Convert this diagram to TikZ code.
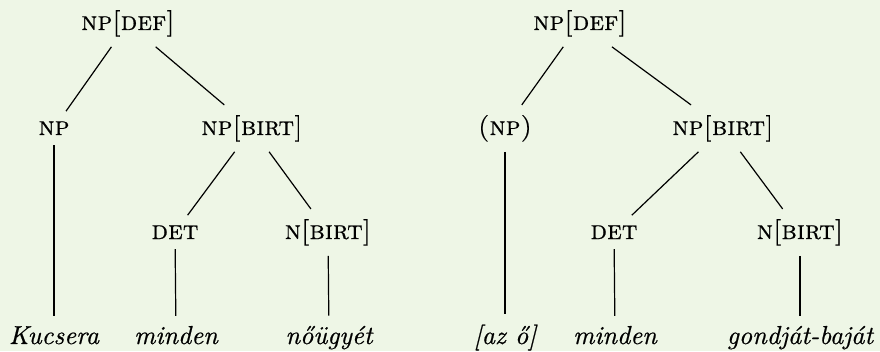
\documentclass[tikz,border=0pt]{standalone}
\usepackage{fontspec}
\setmainfont{lmroman10-regular.otf}[
  ItalicFont=lmroman10-italic.otf,
  SmallCapsFont=lmromancaps10-regular.otf,
  FakeBold=0.6,
  ItalicFeatures={FakeBold=0.6},
  SmallCapsFeatures={FakeBold=0.6}]
\definecolor{bgc}{RGB}{238,246,230}
\begin{document}
\begin{tikzpicture}[x=1pt,y=1pt,
  cat/.style={inner xsep=2pt,inner ysep=10pt,anchor=base,font=\fontsize{26.5}{30}\selectfont\scshape},
  word/.style={inner xsep=2pt,inner ysep=10pt,anchor=base,font=\fontsize{26}{30}\selectfont\itshape},
  br/.style={line width=1.2pt,black}]
\fill[bgc] (0,0) rectangle (880,351);
\useasboundingbox (0,0) rectangle (880,351);
% left tree
\node[cat] (l0) at (128,321) {np[def]};
\node[cat] (l1) at (54,216) {np};
\node[cat] (l2) at (252,216) {np[birt]};
\node[cat] (l3) at (175,112) {det};
\node[cat] (l4) at (328,112) {n[birt]};
\node[word] (w1) at (54,7) {Kucsera};
\node[word] (w2) at (176,7) {minden};
\node[word] (w3) at (329,7) {nőügyét};
\draw[br] (l0) -- (l1);
\draw[br] (l0) -- (l2);
\draw[br] (l1) -- (w1);
\draw[br] (l2) -- (l3);
\draw[br] (l2) -- (l4);
\draw[br] (l3) -- (w2);
\draw[br] (l4) -- (w3);
% right tree
\node[cat] (r0) at (580,321) {np[def]};
\node[cat] (r1) at (505,216) {(np)};
\node[cat] (r2) at (723,216) {np[birt]};
\node[cat] (r3) at (614,112) {det};
\node[cat] (r4) at (800,112) {n[birt]};
\node[word] (v1) at (505,7) {[az ő]};
\node[word] (v2) at (615,7) {minden};
\node[word] (v3) at (800,7) {gondját-baját};
\draw[br] (r0) -- (r1);
\draw[br] (r0) -- (r2);
\draw[br] (r1) -- (v1);
\draw[br] (r2) -- (r3);
\draw[br] (r2) -- (r4);
\draw[br] (r3) -- (v2);
\draw[br] (r4) -- (v3);
\end{tikzpicture}
\end{document}
